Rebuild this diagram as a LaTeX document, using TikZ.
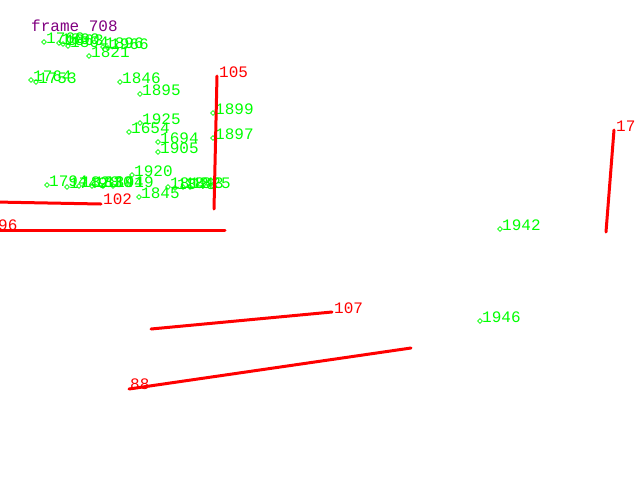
\documentclass[tikz,border=0pt]{standalone}
\usepackage{fontspec}
\newfontfamily\cvfont{Liberation Mono}
\usetikzlibrary{shapes.geometric}
\definecolor{cvgreen}{RGB}{0,255,0}
\definecolor{cvred}{RGB}{255,0,0}
\definecolor{cvpurple}{RGB}{128,0,128}

\begin{document}
\begin{tikzpicture}[x=1pt,y=-1pt,pt/.style={diamond, draw=cvgreen, line width=0.7pt, inner sep=0pt, minimum size=5pt},lbl/.style={anchor=base west, inner sep=0pt, text=cvgreen, font=\cvfont\fontsize{16}{16}\selectfont},seglbl/.style={lbl, text=cvred},seg/.style={draw=cvred, line width=3pt, line cap=round}]
\useasboundingbox (0,0) rectangle (640,480);
\node[lbl, text=cvpurple] (frame) at (31,31) {frame 708};
% tracked points
\node[pt] (p1760) at (44,42) {}; \node[lbl] (t1760) at (46,43) {1760};
\node[pt] (p1800) at (59,43) {}; \node[lbl] (t1800) at (61,44) {1800};
\node[pt] (p1863) at (63,44) {}; \node[lbl] (t1863) at (65,45) {1863};
\node[pt] (p1864) at (68,46) {}; \node[lbl] (t1864) at (70,47) {1864};
\node[pt] (p1821) at (89,56) {}; \node[lbl] (t1821) at (91,57) {1821};
\node[pt] (p1896) at (103,47) {}; \node[lbl] (t1896) at (105,48) {1896};
\node[pt] (p1966) at (108,48) {}; \node[lbl] (t1966) at (110,49) {1966};
\node[pt] (p1764) at (31,80) {}; \node[lbl] (t1764) at (33,81) {1764};
\node[pt] (p1753) at (36,82) {}; \node[lbl] (t1753) at (38,83) {1753};
\node[pt] (p1846) at (120,82) {}; \node[lbl] (t1846) at (122,83) {1846};
\node[pt] (p1895) at (140,94) {}; \node[lbl] (t1895) at (142,95) {1895};
\node[pt] (p1899) at (213,113) {}; \node[lbl] (t1899) at (215,114) {1899};
\node[pt] (p1925) at (140,123) {}; \node[lbl] (t1925) at (142,124) {1925};
\node[pt] (p1654) at (129,132) {}; \node[lbl] (t1654) at (131,133) {1654};
\node[pt] (p1694) at (158,142) {}; \node[lbl] (t1694) at (160,143) {1694};
\node[pt] (p1905) at (158,152) {}; \node[lbl] (t1905) at (160,153) {1905};
\node[pt] (p1897) at (213,138) {}; \node[lbl] (t1897) at (215,139) {1897};
\node[pt] (p1920) at (132,175) {}; \node[lbl] (t1920) at (134,176) {1920};
\node[pt] (p1794) at (47,185) {}; \node[lbl] (t1794) at (49,186) {1794};
\node[pt] (p1749) at (67,187) {}; \node[lbl] (t1749) at (69,188) {1749};
\node[pt] (p1828) at (79,186) {}; \node[lbl] (t1828) at (81,187) {1828};
\node[pt] (p1830) at (92,186) {}; \node[lbl] (t1830) at (94,187) {1830};
\node[pt] (p1844) at (103,186) {}; \node[lbl] (t1844) at (105,187) {1844};
\node[pt] (p1919) at (113,186) {}; \node[lbl] (t1919) at (115,187) {1919};
\node[pt] (p1845) at (139,197) {}; \node[lbl] (t1845) at (141,198) {1845};
\node[pt] (p1812) at (168,187) {}; \node[lbl] (t1812) at (170,188) {1812};
\node[pt] (p1848) at (175,188) {}; \node[lbl] (t1848) at (177,189) {1848};
\node[pt] (p1843) at (183,187) {}; \node[lbl] (t1843) at (185,188) {1843};
\node[pt] (p1825) at (190,187) {}; \node[lbl] (t1825) at (192,188) {1825};
\node[pt] (p1942) at (500,229) {}; \node[lbl] (t1942) at (502,230) {1942};
\node[pt] (p1946) at (480,321) {}; \node[lbl] (t1946) at (482,322) {1946};
% line segments
\coordinate (a96) at (-4,230); \coordinate (b96) at (225,230);
\coordinate (a102) at (-5,202); \coordinate (b102) at (101,204);
\coordinate (a105) at (217,76); \coordinate (b105) at (214,209);
\coordinate (a17) at (614,130); \coordinate (b17) at (606,232);
\coordinate (a107) at (151,329); \coordinate (b107) at (332,312);
\coordinate (a88) at (129,389); \coordinate (b88) at (411,348);
\draw[seg] (a96) -- (b96);
\draw[seg] (a102) -- (b102);
\draw[seg] (a105) -- (b105);
\draw[seg] (a17) -- (b17);
\draw[seg] (a107) -- (b107);
\draw[seg] (a88) -- (b88);
\node[seglbl] (t96) at (-2,230) {96};
\node[seglbl] (t102) at (103,204) {102};
\node[seglbl] (t105) at (219,77) {105};
\node[seglbl] (t17) at (616,131) {17};
\node[seglbl] (t107) at (334,313) {107};
\node[seglbl] (t88) at (130,389) {88};
\end{tikzpicture}
\end{document}
